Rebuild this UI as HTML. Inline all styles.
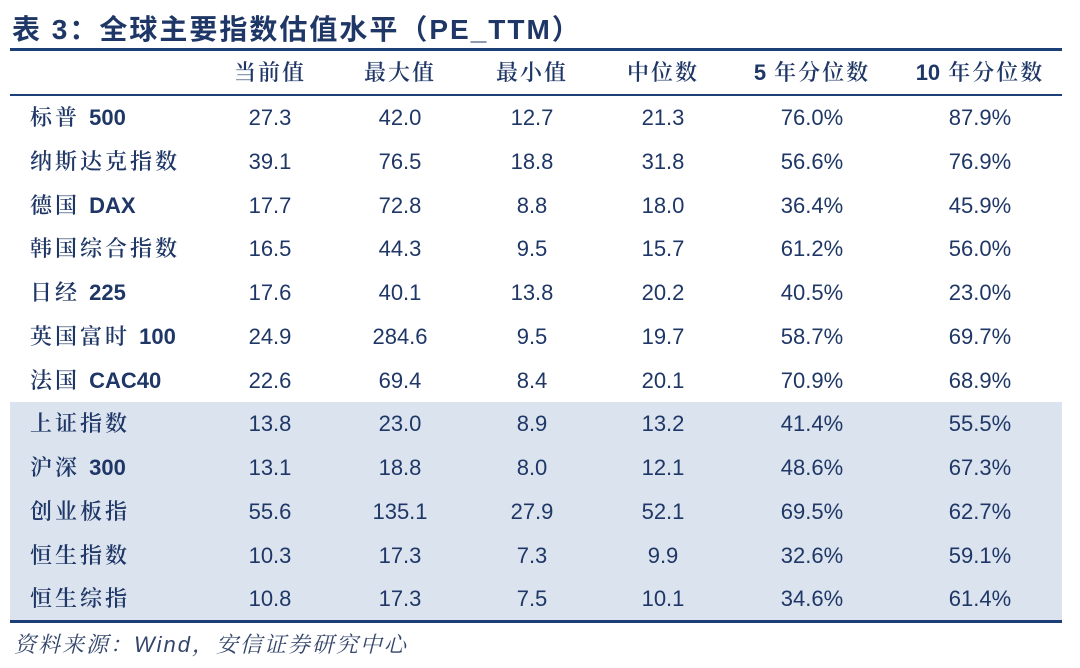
<!DOCTYPE html>
<html><head><meta charset="utf-8"><style>
body{margin:0;width:1080px;height:668px;background:#fff;overflow:hidden;font-family:"Liberation Sans","Noto Sans CJK SC",sans-serif;color:#1f3766;position:relative}
.title{position:absolute;left:12px;top:8px;font-size:28px;font-weight:bold;font-family:"Liberation Sans","Noto Sans CJK SC",sans-serif;letter-spacing:2px;color:#1f3766}
.rule{position:absolute;left:10px;width:1052px;background:#1d3f77}
.shade{position:absolute;left:10px;width:1052px;top:402px;height:218px;background:#dbe3ef}
.row{position:absolute;left:0;width:1080px;height:44px;line-height:44px;font-size:22px}
.row span{position:absolute;top:0;transform:translateX(-50%);white-space:nowrap}
.row .lab{left:30px;transform:none;font-family:"Liberation Sans","Noto Serif CJK SC",serif;letter-spacing:3px;font-weight:600}
.row .lab b{letter-spacing:0}
.hdr span{font-family:"Liberation Sans","Noto Serif CJK SC",serif;letter-spacing:2px;font-weight:600}
.hdr b{letter-spacing:0}
.src{position:absolute;left:14px;top:628px;font-size:22px;letter-spacing:2px;font-style:italic;color:#33456b;font-family:"Liberation Sans","Noto Serif CJK SC",serif}
</style></head><body>
<div class="title">表 3：全球主要指数估值水平（PE_TTM）</div>
<div class="rule" style="top:48px;height:3px"></div>
<div class="shade"></div>
<div class="row hdr" style="top:51px">
<span style="left:270px">当前值</span><span style="left:400px">最大值</span><span style="left:532px">最小值</span><span style="left:663px">中位数</span><span style="left:812px"><b>5</b> 年分位数</span><span style="left:980px"><b>10</b> 年分位数</span>
</div>
<div class="rule" style="top:94px;height:2px"></div>
<div id="body"></div>
<div class="rule" style="top:620px;height:3px"></div>
<div class="src">资料来源：Wind，安信证券研究中心</div>
<script>
const labels=['标普 <b>500</b>','纳斯达克指数','德国 <b>DAX</b>','韩国综合指数','日经 <b>225</b>','英国富时 <b>100</b>','法国 <b>CAC40</b>','上证指数','沪深 <b>300</b>','创业板指','恒生指数','恒生综指'];
const current=['27.3','39.1','17.7','16.5','17.6','24.9','22.6','13.8','13.1','55.6','10.3','10.8'];
const maxv=['42.0','76.5','72.8','44.3','40.1','284.6','69.4','23.0','18.8','135.1','17.3','17.3'];
const minv=['12.7','18.8','8.8','9.5','13.8','9.5','8.4','8.9','8.0','27.9','7.3','7.5'];
const median=['21.3','31.8','18.0','15.7','20.2','19.7','20.1','13.2','12.1','52.1','9.9','10.1'];
const pct5=['76.0%','56.6%','36.4%','61.2%','40.5%','58.7%','70.9%','41.4%','48.6%','69.5%','32.6%','34.6%'];
const pct10=['87.9%','76.9%','45.9%','56.0%','23.0%','69.7%','68.9%','55.5%','67.3%','62.7%','59.1%','61.4%'];
const cols=[current,maxv,minv,median,pct5,pct10];
const xs=[270,400,532,663,812,980];
const body=document.getElementById('body');
labels.forEach((l,i)=>{
 const r=document.createElement('div');
 r.className='row';
 r.style.top=(96+i*43.75)+'px';
 
 
 let h='<span class="lab">'+l+'</span>';
 cols.forEach((c,j)=>{h+='<span style="left:'+xs[j]+'px">'+c[i]+'</span>';});
 r.innerHTML=h;
 body.appendChild(r);
});
</script>
</body></html>
